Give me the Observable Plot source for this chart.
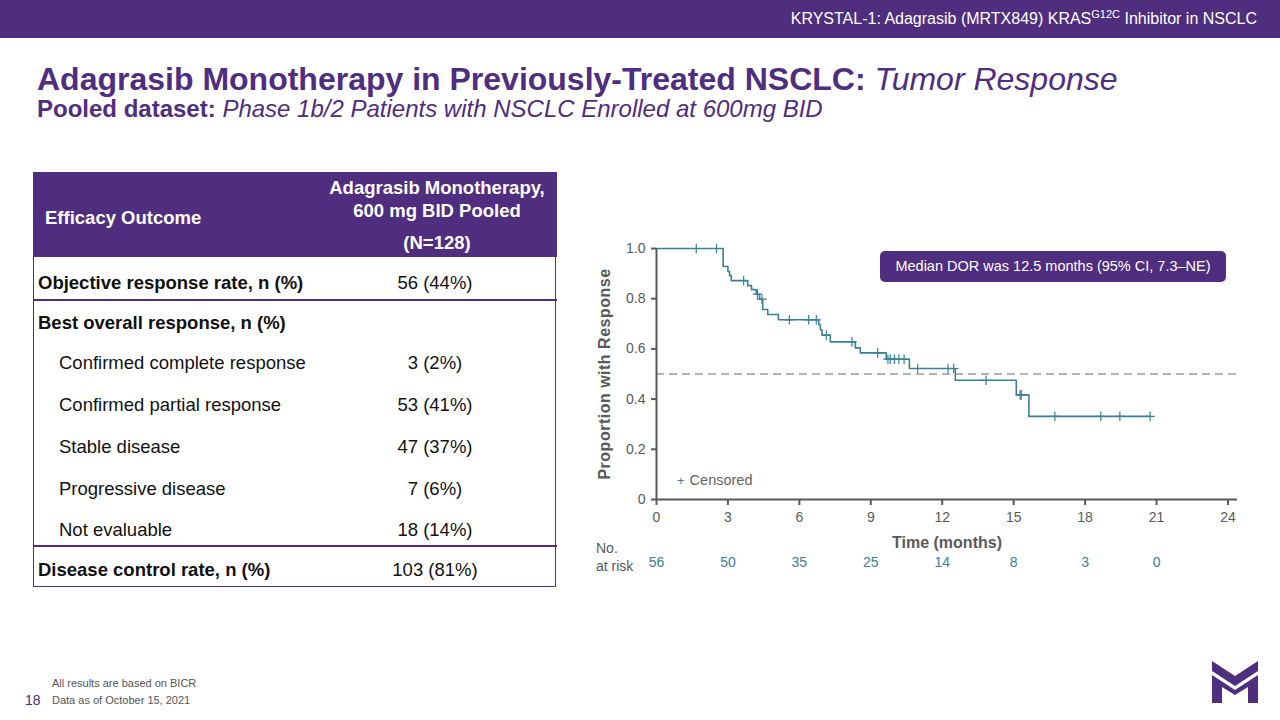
<!DOCTYPE html>
<html>
<head>
<meta charset="utf-8">
<script src="https://cdn.jsdelivr.net/npm/d3@7"></script>
<script src="https://cdn.jsdelivr.net/npm/@observablehq/plot@0.6"></script>
<style>
  html, body { margin: 0; padding: 0; }
  body { width: 1280px; height: 720px; position: relative; overflow: hidden; background: #fff;
         font-family: "Liberation Sans", Arial, sans-serif; }
  .abs { position: absolute; white-space: nowrap; }
  #topbar { left: 0; top: 0; width: 1280px; height: 38px; background: #4f2d7f; }
  #toptext { right: 23px; top: 10px; color: #fff; font-size: 16px; }
  #toptext sup { font-size: 11px; vertical-align: 6px; line-height: 0; }
  #title { left: 37px; top: 61px; color: #4f2d7f; font-size: 32px; font-weight: bold; }
  #title i { font-weight: normal; }
  #subtitle { left: 37px; top: 95px; color: #4f2d7f; font-size: 24px; font-weight: bold; }
  #subtitle i { font-weight: normal; }
  .cell { position: absolute; white-space: nowrap; font-size: 18.5px; line-height: 20px; color: #111; }
  .hdr { color: #fff; font-weight: bold; font-size: 18.5px; }
  #chart { position: absolute; left: 580px; top: 230px; }
  #chart g[aria-label="x-axis label"] text { font-weight: bold; font-size: 16px; }
  #chart g[aria-label="y-axis label"] text { font-weight: bold; font-size: 16px; letter-spacing: 0.5px; }
  #median { left: 880px; top: 251px; width: 346px; height: 31px; background: #4f2d7f; border-radius: 5px;
            color: #fff; font-size: 14.5px; line-height: 31px; text-align: center; }
  #legend { left: 677px; top: 472px; font-size: 14.5px; color: #666; }
  #legend span { color: #3c8096; font-size: 13px; margin-right: 5px; }
  #norisk { left: 596px; top: 539px; font-size: 14px; color: #595959; line-height: 18px; }
  .foot { font-size: 11px; color: #555; }
</style>
</head>
<body>
<div class="abs" id="topbar"></div>
<div class="abs" id="toptext">KRYSTAL-1: Adagrasib (MRTX849) KRAS<sup>G12C</sup> Inhibitor in NSCLC</div>
<div class="abs" id="title">Adagrasib Monotherapy in Previously-Treated NSCLC: <i>Tumor Response</i></div>
<div class="abs" id="subtitle">Pooled dataset: <i>Phase 1b/2 Patients with NSCLC Enrolled at 600mg BID</i></div>
<div id="table"></div>
<div id="chart"></div>
<div class="abs" id="median">Median DOR was 12.5 months (95% CI, 7.3–NE)</div>
<div class="abs" id="legend"><span>+</span>Censored</div>
<div class="abs" id="norisk">No.<br>at risk</div>
<div class="abs foot" style="left:52px; top:677px;">All results are based on BICR</div>
<div class="abs foot" style="left:52px; top:694px;">Data as of October 15, 2021</div>
<div class="abs" style="left:25px; top:692px; font-size:14px; color:#4f2d7f;">18</div>
<svg class="abs" style="left:1211px; top:659px;" width="48" height="46" viewBox="0 0 48 46">
  <polygon points="1,2 24,17 47,2 47,12 24,27 1,12" fill="#4f2d7f"/>
  <polygon points="1,16 24,31 47,16 47,44 37,44 37,28 24,36 11,28 11,44 1,44" fill="#4f2d7f"/>
</svg>
<script>
// ---- Table data ----
const tableLabels = ["Objective response rate, n (%)", "Best overall response, n (%)",
  "Confirmed complete response", "Confirmed partial response", "Stable disease",
  "Progressive disease", "Not evaluable", "Disease control rate, n (%)"];
const tableValues = ["56 (44%)", "", "3 (2%)", "53 (41%)", "47 (37%)", "7 (6%)", "18 (14%)", "103 (81%)"];
const tableBold = [true, true, false, false, false, false, false, true];
const tableHeader = ["Efficacy Outcome", "Adagrasib Monotherapy,", "600 mg BID Pooled", "(N=128)"];

// ---- KM curve data (months, proportion with response) ----
const kmTime = [0, 2.80, 3.00, 3.07, 3.14, 3.83, 3.99, 4.19, 4.33, 4.46, 4.67, 5.12, 6.81, 6.88, 6.95,
  7.30, 8.35, 8.56, 9.65, 10.62, 12.55, 15.11, 15.64, 20.73];
const kmSurv = [1.0, 0.928, 0.908, 0.892, 0.872, 0.852, 0.836, 0.818, 0.798, 0.757, 0.737, 0.716, 0.697,
  0.676, 0.655, 0.628, 0.604, 0.584, 0.559, 0.522, 0.475, 0.417, 0.331, 0.331];
const censorTime = [1.67, 2.52, 3.66, 4.24, 4.43, 5.58, 6.39, 6.71, 7.13, 8.21, 9.29, 9.72, 9.82, 9.99,
  10.18, 10.40, 10.97, 12.24, 12.48, 13.84, 15.27, 15.32, 16.73, 18.66, 19.46, 20.73];
const censorSurv = [1.0, 1.0, 0.872, 0.818, 0.798, 0.716, 0.716, 0.716, 0.655, 0.628, 0.584, 0.559, 0.559,
  0.559, 0.559, 0.559, 0.522, 0.522, 0.522, 0.475, 0.417, 0.417, 0.331, 0.331, 0.331, 0.331];
const medianLevel = 0.5;
const xTicks = [0, 3, 6, 9, 12, 15, 18, 21, 24];
const yTicks = [0, 0.2, 0.4, 0.6, 0.8, 1.0];
const riskTimes = [0, 3, 6, 9, 12, 15, 18, 21];
const riskCounts = [56, 50, 35, 25, 14, 8, 3, 0];

// ---- Build table ----
const P = "#4f2d7f";
const T = document.getElementById("table");
function add(html, style, cls) {
  const d = document.createElement("div");
  d.className = cls || "cell";
  d.innerHTML = html;
  Object.assign(d.style, style);
  T.appendChild(d);
  return d;
}
add("", {left: "33px", top: "172px", width: "524px", height: "85px", background: P});
add("", {left: "33px", top: "257px", width: "521px", height: "329px", border: "1.5px solid " + P, borderTop: "none"});
add("", {left: "33px", top: "299px", width: "524px", height: "1.5px", background: P});
add("", {left: "33px", top: "545px", width: "524px", height: "1.5px", background: P});
add(tableHeader[0], {left: "45px", top: "208px"}, "cell hdr");
[188, 211, 243].forEach((cy, i) => {
  add(tableHeader[i + 1], {left: "317px", width: "240px", textAlign: "center", top: (cy - 10) + "px"}, "cell hdr");
});
const rowCenters = [283, 323, 363, 405, 447, 489, 530, 570];
tableLabels.forEach((lab, i) => {
  add(lab, {left: (tableBold[i] ? 38 : 59) + "px", top: (rowCenters[i] - 10) + "px", fontWeight: tableBold[i] ? "bold" : "normal"});
  if (tableValues[i]) add(tableValues[i], {left: "315px", width: "240px", textAlign: "center", top: (rowCenters[i] - 10) + "px"});
});

// ---- KM plot ----
const km = kmTime.map((t, i) => ({t, s: kmSurv[i]}));
const cens = censorTime.map((t, i) => ({t, s: censorSurv[i]}));
const risk = riskTimes.map((t, i) => ({t, n: riskCounts[i]}));
const teal = "#3c8096";
const grey = "#595959";

const plot = Plot.plot({
  width: 670, height: 360,
  marginLeft: 76, marginTop: 18, marginRight: 13, marginBottom: 91,
  style: {fontFamily: "'Liberation Sans', Arial, sans-serif", fontSize: "14px", color: grey, background: "transparent"},
  x: {domain: [0, 24.4]},
  y: {domain: [0, 1]},
  marks: [
    Plot.ruleY([medianLevel], {stroke: "#b5b5b5", strokeWidth: 2, strokeDasharray: "8,5"}),
    Plot.line(km, {x: "t", y: "s", curve: "step-after", stroke: teal, strokeWidth: 1.6}),
    Plot.dot(cens, {x: "t", y: "s", symbol: "plus", r: 3.2, stroke: teal, strokeWidth: 1.2}),
    Plot.ruleY([0], {stroke: grey, strokeWidth: 2}),
    Plot.ruleX([0], {stroke: grey, strokeWidth: 2}),
    Plot.axisX({ticks: xTicks, tickSize: 6, tickPadding: 7, stroke: grey, strokeWidth: 2,
      label: "Time (months)", labelAnchor: "center", labelArrow: "none", labelOffset: 48}),
    Plot.axisY({ticks: yTicks, tickSize: 5, tickPadding: 6, stroke: grey, strokeWidth: 2,
      tickFormat: d => d === 0 ? "0" : d.toFixed(1),
      label: "Proportion with Response", labelAnchor: "center", labelArrow: "none", labelOffset: 58}),
    Plot.text(risk, {x: "t", text: "n", frameAnchor: "bottom", dy: 67, fill: teal, fontSize: 14})
  ]
});
document.getElementById("chart").appendChild(plot);
</script>
</body>
</html>
